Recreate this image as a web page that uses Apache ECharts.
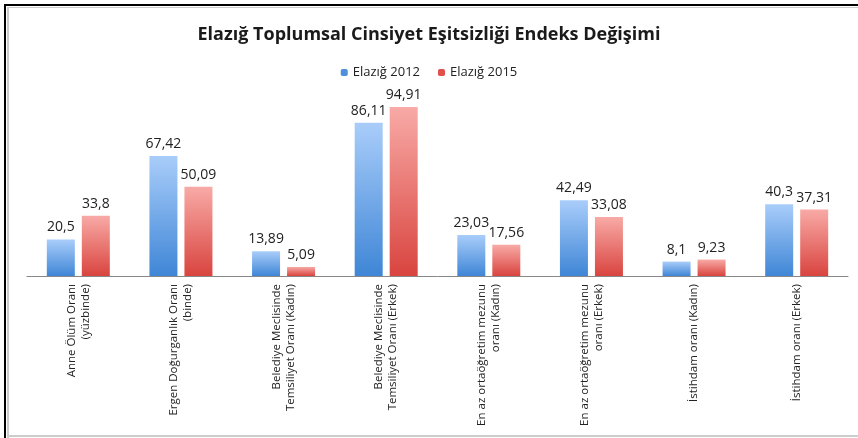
<!DOCTYPE html>
<html><head><meta charset="utf-8">
<script src="https://cdn.jsdelivr.net/npm/echarts@6/dist/echarts.min.js"></script>
<style>html,body{margin:0;padding:0;background:#fff}#c{width:858px;height:438px}</style>
</head><body><div id="c"></div>
<script>
const categories = [
  "Anne Ölüm Oranı\n(yüzbinde)",
  "Ergen Doğurganlık Oranı\n(binde)",
  "Belediye Meclisinde\nTemsiliyet Oranı (Kadın)",
  "Belediye Meclisinde\nTemsiliyet Oranı (Erkek)",
  "En az ortaöğretim mezunu\noranı (Kadın)",
  "En az ortaöğretim mezunu\noranı (Erkek)",
  "İstihdam oranı (Kadın)",
  "İstihdam oranı (Erkek)"
];
const seriesNames = ["Elazığ 2012", "Elazığ 2015"];
const values2012 = [20.5, 67.42, 13.89, 86.11, 23.03, 42.49, 8.1, 40.3];
const values2015 = [33.8, 50.09, 5.09, 94.91, 17.56, 33.08, 9.23, 37.31];

const font = "Open Sans";
function grad(top, bottom){
  return new echarts.graphic.LinearGradient(0,0,0,1,[{offset:0,color:top},{offset:1,color:bottom}]);
}
const fmt = p => String(p.value).replace('.', ',');
const chart = echarts.init(document.getElementById('c'), null, {renderer:'canvas'});
chart.setOption({
  animation:false,
  backgroundColor:'#fff',
  title:{text:'Elazığ Toplumsal Cinsiyet Eşitsizliği Endeks Değişimi', left:'center', top:21,
    textStyle:{fontFamily:font, fontWeight:'bold', fontSize:18, color:'#1a1a1a'}},
  legend:{top:61, left:'center', itemWidth:7, itemHeight:7, itemGap:18,
    textStyle:{fontFamily:font, fontSize:13, color:'#222'},
    data:[{name:seriesNames[0], itemStyle:{color:'#4f8fdc'}},{name:seriesNames[1], itemStyle:{color:'#e0504c'}}]},
  grid:{left:27, right:10, top:98, bottom:162, containLabel:false, outerBoundsMode:'none'},
  xAxis:{type:'category', data:categories,
    axisLine:{lineStyle:{color:'#888', width:1}}, axisTick:{show:false},
    axisLabel:{rotate:90, interval:0, fontFamily:font, fontSize:11.5, color:'#222', lineHeight:14, margin:8}},
  yAxis:{type:'value', min:0, max:100, show:false, splitLine:{show:false}},
  series:[
    {name:seriesNames[0], type:'bar', data:values2012, barWidth:28, barGap:'25%',
      itemStyle:{color:grad('#a9cdfa','#3f86d6')},
      label:{show:true, position:'top', formatter:fmt, fontFamily:font, fontSize:14, color:'#222', distance:5}},
    {name:seriesNames[1], type:'bar', data:values2015, barWidth:28,
      itemStyle:{color:grad('#f8aaa6','#d9443f')},
      label:{show:true, position:'top', formatter:fmt, fontFamily:font, fontSize:14, color:'#222', distance:5}}
  ],
  graphic:[
    {type:'rect', shape:{x:4,y:4,width:854,height:2}, style:{fill:'#000'}},
    {type:'rect', shape:{x:4,y:4,width:2,height:434}, style:{fill:'#000'}},
    {type:'rect', shape:{x:7,y:7,width:851,height:1}, style:{fill:'#ccc'}},
    {type:'rect', shape:{x:7,y:7,width:2,height:431}, style:{fill:'#ccc'}},
    {type:'rect', shape:{x:7,y:435,width:851,height:2}, style:{fill:'#ccc'}}
  ]
});
</script></body></html>
